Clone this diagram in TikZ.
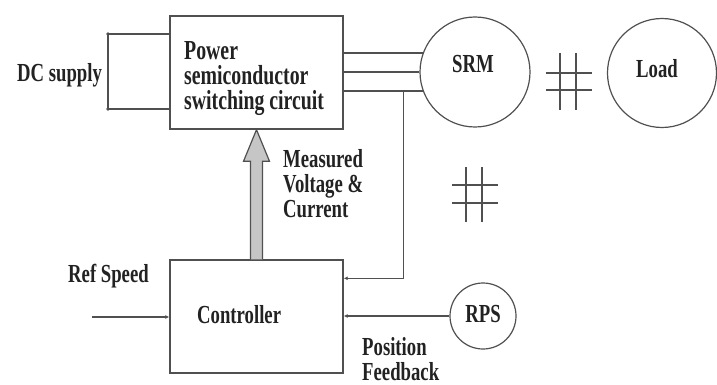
\documentclass[tikz,border=0pt]{standalone}
\usepackage{fontspec}
\setmainfont{Liberation Serif}[FakeStretch=0.72]
\usetikzlibrary{calc,arrows.meta}
\definecolor{linec}{HTML}{505050}
\definecolor{txtc}{HTML}{222222}
\begin{document}
\begin{tikzpicture}[x=1pt,y=-1pt,
  box/.style={draw=linec, line width=1.4pt, minimum width=173pt, minimum height=113pt, inner sep=0pt},
  circ/.style={draw=linec, circle, line width=1.2pt, inner sep=0pt},
  wire/.style={draw=linec, line width=1.2pt},
  txt/.style={font=\fontsize{26}{25}\selectfont\bfseries, text=txtc, inner sep=0pt},
  bigtxt/.style={font=\fontsize{27.5}{25}\selectfont\bfseries, text=txtc, inner sep=0pt},
  tip/.style={-{Latex[length=4pt,width=4pt]}}
]
\useasboundingbox (0,0) rectangle (717,385);
% blocks
\node[box] (pwr) at (256.5,72.5) {};
\node[box] (ctrl) at (256.5,316.5) {};
\node[circ, minimum size=110pt] (srm) at (475,72) {};
\node[circ, minimum size=109pt] (load) at (662,73) {};
\node[circ, minimum size=66pt] (rps) at (483,316) {};
% texts
\node[bigtxt, anchor=north west, align=left] (pwrt) at (184,41) {Power\\semiconductor\\switching circuit};
\node[txt, anchor=base west] (dct) at (17,82) {DC supply};
\node[txt, anchor=base] (srmt) at (473,73) {SRM};
\node[txt, anchor=base] (loadt) at (657,78) {Load};
\node[txt, anchor=north west, align=left] (meas) at (283,149.5) {Measured\\Voltage \&\\Current};
\node[txt, anchor=base west] (reft) at (68,282) {Ref Speed};
\node[txt, anchor=base west] (ctrlt) at (197,323) {Controller};
\node[txt, anchor=base] (rpst) at (483,322) {RPS};
\node[txt, anchor=north west, align=left] (post) at (362,337) {Position\\Feedback};
% DC supply bracket
\coordinate (dca) at (108,34);
\coordinate (dcb) at (108,109);
\draw[wire] (pwr.west |- dca) -- (dca) -- (dcb) -- (pwr.west |- dcb);
\fill[linec] (dca) circle (1.8);
\fill[linec] (dcb) circle (1.8);
% three-phase lines
\draw[wire] (pwr.east |- srm.160) -- (srm.160);
\draw[wire] (pwr.east |- srm.west) -- (srm.west);
\draw[wire] (pwr.east |- srm.200) -- (srm.200);
% feedback of measured quantities
\coordinate (fbtop) at ($(srm.200)+(-19,0)$);
\coordinate (fbin) at ($(ctrl.north east)+(0,19)$);
\draw[wire, tip] (fbtop) |- (fbin);
% position feedback
\draw[wire, tip] (rps.west) -- (ctrl.east |- rps.west);
% reference speed
\coordinate (refin) at (92,317);
\draw[wire, tip] (refin) -- (ctrl.west |- refin);
% thick arrow
\draw[fill=gray!45, draw=linec, line width=1.2pt, line join=miter]
  ($(ctrl.north)+(-6,0)$) -- ($(ctrl.north)+(-6,-98)$) -- ($(ctrl.north)+(-13,-98)$)
  -- (pwr.south) -- ($(ctrl.north)+(13,-98)$) -- ($(ctrl.north)+(6,-98)$) -- ($(ctrl.north)+(6,0)$);
% mechanical coupling symbols
\draw[wire] (560,53) -- (560,110) (576,53) -- (576,110) (546,73) -- (592,73) (546,90) -- (592,90);
\draw[wire] (466,167) -- (466,222) (482,167) -- (482,222) (452,185) -- (498,185) (452,203) -- (498,203);
\end{tikzpicture}
\end{document}
